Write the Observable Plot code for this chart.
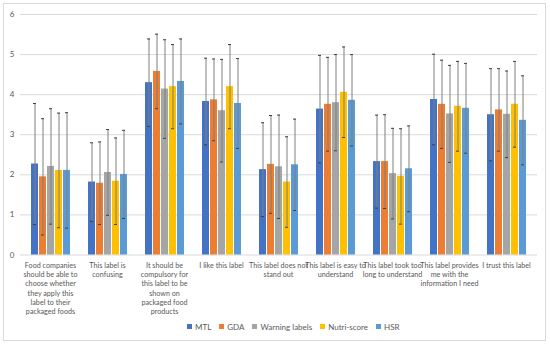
<!DOCTYPE html>
<html>
<head>
<meta charset="utf-8">
<script src="https://cdn.jsdelivr.net/npm/d3@7"></script>
<script src="https://cdn.jsdelivr.net/npm/@observablehq/plot@0.6"></script>
<style>
  html, body { margin: 0; padding: 0; background: #fff; }
  #wrap { position: relative; width: 550px; height: 346px; overflow: hidden; font-family: Lato, "Open Sans", sans-serif; }
  #frame { position: absolute; left: 3px; top: 3px; width: 541px; height: 336px; border: 1px solid #d9d9d9; box-sizing: content-box; }
  #grid, #chart { position: absolute; left: 0; top: 0; }
  #legend { position: absolute; left: 187px; top: 322px; display: flex; gap: 8px; font-size: 8px; color: #595959; white-space: nowrap; }
  #legend span.sw { display: inline-block; width: 5px; height: 5px; margin-right: 3px; vertical-align: middle; position: relative; top: -1px; }
</style>
</head>
<body>
<div id="wrap">
  <div id="frame"></div>
  <div id="grid"></div>
  <div id="chart"></div>
  <div id="legend"></div>
</div>
<script>
const categories = [
  "Food companies\nshould be able to\nchoose whether\nthey apply this\nlabel to their\npackaged foods",
  "This label is\nconfusing",
  "It should be\ncompulsory for\nthis label to be\nshown on\npackaged food\nproducts",
  "I like this label",
  "This label does not\nstand out",
  "This label is easy to\nunderstand",
  "This label took too\nlong to understand",
  "This label provides\nme with the\ninformation I need",
  "I trust this label"
];
const seriesNames = ["MTL", "GDA", "Warning labels", "Nutri-score", "HSR"];
const seriesColors = ["#4472C4", "#ED7D31", "#A5A5A5", "#FFC000", "#5B9BD5"];
const yTicks = [0, 1, 2, 3, 4, 5, 6];

const mtlMean = [2.27, 1.82, 4.30, 3.83, 2.13, 3.64, 2.33, 3.88, 3.50];
const mtlSd   = [1.51, 0.98, 1.09, 1.08, 1.17, 1.34, 1.16, 1.13, 1.15];
const gdaMean = [1.95, 1.79, 4.58, 3.87, 2.26, 3.76, 2.33, 3.76, 3.62];
const gdaSd   = [1.45, 1.03, 0.93, 1.02, 1.22, 1.17, 1.17, 1.10, 1.03];
const warnMean = [2.21, 2.06, 4.14, 3.60, 2.20, 3.80, 2.03, 3.52, 3.51];
const warnSd   = [1.44, 1.07, 1.23, 1.28, 1.29, 1.20, 1.13, 1.21, 1.08];
const nutriMean = [2.11, 1.84, 4.20, 4.20, 1.82, 4.06, 1.96, 3.71, 3.76];
const nutriSd   = [1.43, 1.08, 1.05, 1.05, 1.13, 1.13, 1.19, 1.12, 1.07];
const hsrMean = [2.11, 2.01, 4.33, 3.78, 2.25, 3.86, 2.15, 3.66, 3.36];
const hsrSd   = [1.44, 1.10, 1.06, 1.12, 1.14, 1.14, 1.07, 1.12, 1.11];

const means = [mtlMean, gdaMean, warnMean, nutriMean, hsrMean];
const sds = [mtlSd, gdaSd, warnSd, nutriSd, hsrSd];

const data = [];
categories.forEach((c, i) => {
  seriesNames.forEach((s, j) => {
    data.push({cat: c, series: s, mean: means[j][i], sd: sds[j][i]});
  });
});

const common = {
  width: 550,
  height: 320,
  marginTop: 14,
  marginBottom: 65.5,
  marginLeft: 20,
  marginRight: 13,
  style: {fontFamily: "Lato, 'Open Sans', sans-serif", fontSize: "8px", color: "#595959", background: "transparent"}
};

// background: gridlines and y axis labels spanning the whole plot area
const grid = Plot.plot({
  ...common,
  y: {domain: [0, 6], label: null},
  marks: [
    Plot.ruleY(yTicks, {stroke: "#d9d9d9", strokeWidth: 1}),
    Plot.axisY(yTicks, {tickSize: 0, tickPadding: 6, fontSize: 8, fill: "#595959", label: null})
  ]
});
document.getElementById("grid").appendChild(grid);

// foreground: grouped bars with error bars
const chart = Plot.plot({
  ...common,
  fx: {domain: categories, paddingInner: 0.26, paddingOuter: 0.13, label: null},
  x: {domain: seriesNames, paddingInner: 0.17, paddingOuter: 0, axis: null},
  y: {domain: [0, 6], label: null, axis: null},
  color: {domain: seriesNames, range: seriesColors},
  marks: [
    Plot.axisFx({anchor: "bottom", tickSize: 0, tickPadding: 6, lineHeight: 1.3, fontSize: 7.2, fill: "#595959", label: null}),
    Plot.barY(data, {fx: "cat", x: "series", y: "mean", fill: "series"}),
    Plot.ruleX(data, {fx: "cat", x: "series", y1: d => d.mean - d.sd, y2: d => d.mean + d.sd, stroke: "#7f7f7f", strokeWidth: 1}),
    Plot.tickY(data, {fx: "cat", x: "series", y: d => d.mean + d.sd, stroke: "#404040", strokeWidth: 1, insetLeft: 2, insetRight: 2}),
    Plot.tickY(data, {fx: "cat", x: "series", y: d => d.mean - d.sd, stroke: "#404040", strokeWidth: 1, insetLeft: 2, insetRight: 2})
  ]
});
document.getElementById("chart").appendChild(chart);

const legend = document.getElementById("legend");
seriesNames.forEach((s, i) => {
  const item = document.createElement("span");
  const sw = document.createElement("span");
  sw.className = "sw";
  sw.style.background = seriesColors[i];
  item.appendChild(sw);
  item.appendChild(document.createTextNode(s));
  legend.appendChild(item);
});
</script>
</body>
</html>
